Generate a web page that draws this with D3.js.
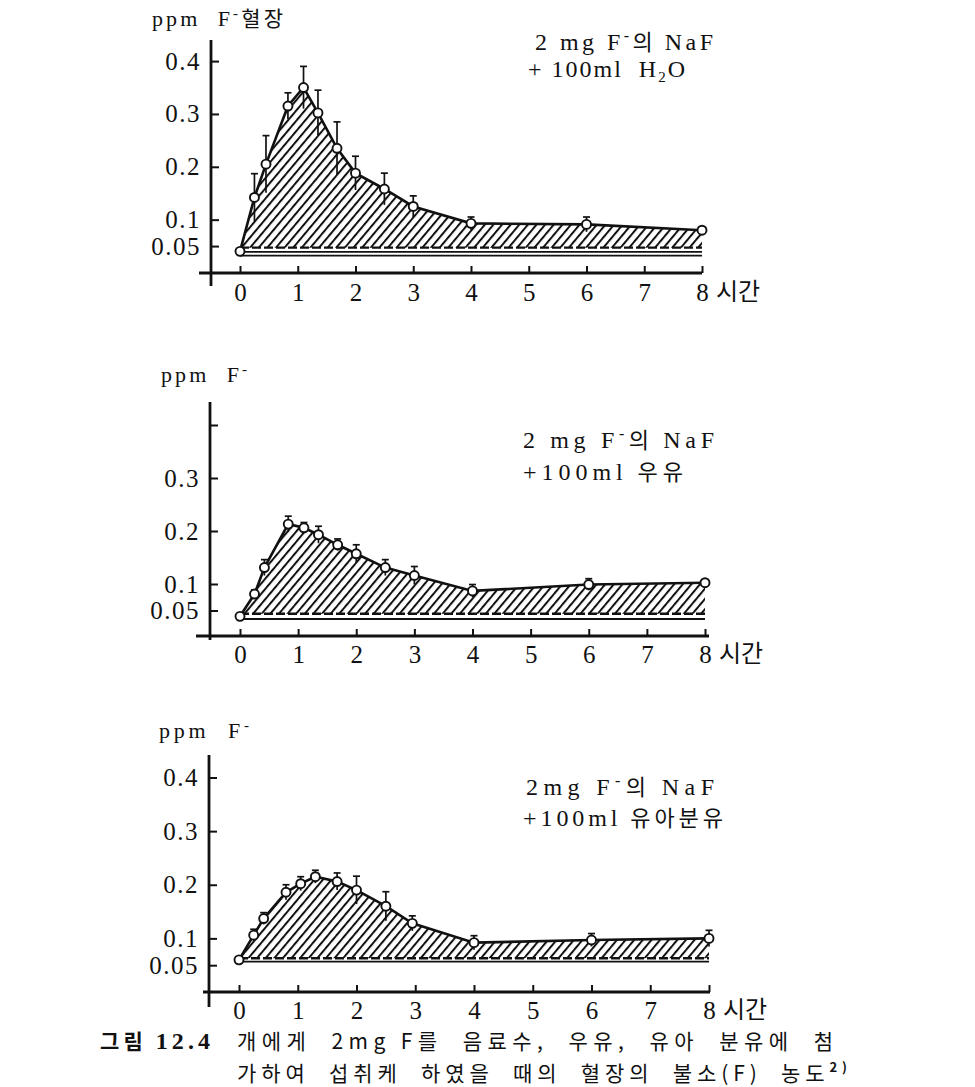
<!DOCTYPE html>
<html><head><meta charset="utf-8">
<script src="https://cdn.jsdelivr.net/npm/d3@7"></script>
<style>
body{margin:0;background:#fff;}
svg text{white-space:pre;}
</style></head><body>
<svg id="c" width="975" height="1087"></svg>
<script>
// ---------------- DATA ----------------
const hourTicks = [0,1,2,3,4,5,6,7,8];
const yTickValues = [0.4,0.3,0.2,0.1,0.05];
const yTickLabels1 = ["0.4","0.3","0.2","0.1","0.05"];
const yTickLabels2 = ["","0.3","0.2","0.1","0.05"];
const yTickLabels3 = ["0.4","0.3","0.2","0.1","0.05"];

// Panel 1: NaF + 100 ml H2O
const timeWater  = [0, 0.25, 0.45, 0.83, 1.1, 1.35, 1.68, 2, 2.5, 3, 4, 6, 8];
const plasmaWater = [0.040, 0.142, 0.205, 0.315, 0.350, 0.302, 0.235, 0.188, 0.158, 0.125, 0.093, 0.091, 0.080];
const errWater    = [0, 0.045, 0.054, 0.025, 0.040, 0.043, 0.050, 0.032, 0.030, 0.020, 0.012, 0.014, 0.005];
const bandWater   = [0.047, 0.039, 0.032];

// Panel 2: NaF + 100 ml milk
const timeMilk   = [0, 0.25, 0.42, 0.83, 1.1, 1.35, 1.68, 2, 2.5, 3, 4, 6, 8];
const plasmaMilk = [0.039, 0.081, 0.131, 0.213, 0.206, 0.193, 0.174, 0.157, 0.131, 0.116, 0.087, 0.099, 0.1025];
const errMilk    = [0, 0.008, 0.015, 0.015, 0.010, 0.016, 0.011, 0.017, 0.015, 0.017, 0.012, 0.011, 0.004];
const bandMilk   = [0.044, 0.034];

// Panel 3: NaF + 100 ml infant formula
const timeFormula   = [0, 0.25, 0.42, 0.8, 1.05, 1.3, 1.67, 2, 2.5, 2.95, 4, 6, 8];
const plasmaFormula = [0.060, 0.106, 0.137, 0.186, 0.202, 0.215, 0.206, 0.190, 0.160, 0.128, 0.092, 0.097, 0.100];
const errFormula    = [0, 0.011, 0.011, 0.014, 0.013, 0.012, 0.016, 0.026, 0.027, 0.014, 0.013, 0.012, 0.015];
const bandFormula   = [0.063, 0.0565];

// ---------------- LAYOUT ----------------
const svg = d3.select("#c");
const serif = "'Liberation Serif','Noto Sans CJK KR',serif";
const kr = "'Noto Sans CJK KR','Liberation Serif',sans-serif";

const defs = svg.append("defs");
defs.append("pattern").attr("id","hatch").attr("patternUnits","userSpaceOnUse")
  .attr("width",6.6).attr("height",10).attr("patternTransform","rotate(40)")
  .append("line").attr("x1",1).attr("y1",-2).attr("x2",1).attr("y2",12)
  .attr("stroke","#111").attr("stroke-width",2);

const panels = [
  {t:timeWater, v:plasmaWater, e:errWater, band:bandWater, labels:yTickLabels1,
   xr:[240,702], yr:[272.5,61.1], axX:211, axY:[40,286], xAxY:273, xAxX:[199,702],
   padX:10, ylab:{x:152,y:26,w:131,rest:"혈장"},
   leg:[{x:535,y:50,w:178},{x:528,y:77,w:157}], legText:"H2O"},
  {t:timeMilk, v:plasmaMilk, e:errMilk, band:bandMilk, labels:yTickLabels2,
   xr:[240,705], yr:[637,425], axX:210, axY:[402,640], xAxY:636, xAxX:[196,709],
   padX:9, ylab:{x:161,y:382,w:86,rest:""},
   leg:[{x:523,y:448,w:191},{x:523,y:480,w:160}], legText:"우유"},
  {t:timeFormula, v:plasmaFormula, e:errFormula, band:bandFormula, labels:yTickLabels3,
   xr:[239,709], yr:[992,777.5], axX:209, axY:[755,1007], xAxY:992, xAxX:[203,710],
   padX:9, ylab:{x:159,y:738,w:90,rest:""},
   leg:[{x:526,y:795,w:188},{x:523,y:826,w:200}], legText:"유아분유"}
];

panels.forEach((p,pi)=>{
  const g = svg.append("g");
  const x = d3.scaleLinear().domain([0,8]).range(p.xr);
  const y = d3.scaleLinear().domain([0,0.4]).range(p.yr);
  const data = p.t.map((t,i)=>({t, v:p.v[i], e:p.e[i]}));

  // hatched area
  g.append("path").datum(data)
    .attr("d", d3.area().x(d=>x(d.t)).y0(y(p.band[0])).y1(d=>y(d.v)))
    .attr("fill","url(#hatch)");

  // baseline band
  p.band.forEach((b,bi)=>{
    g.append("line").attr("x1",x(0)).attr("x2",x(8)).attr("y1",y(b)).attr("y2",y(b))
      .attr("stroke","#111").attr("stroke-width", bi===0?2.4:1.8)
      .attr("stroke-dasharray", bi===0?"9,3":null);
  });

  // curve
  g.append("path").datum(data)
    .attr("d", d3.line().x(d=>x(d.t)).y(d=>y(d.v)))
    .attr("fill","none").attr("stroke","#111").attr("stroke-width",2.6);

  // error bars
  const eb = data.filter(d=>d.e>0);
  g.selectAll(".eb").data(eb).join("line")
    .attr("x1",d=>x(d.t)).attr("x2",d=>x(d.t))
    .attr("y1",d=>y(d.v-d.e)).attr("y2",d=>y(d.v+d.e))
    .attr("stroke","#111").attr("stroke-width",1.7);
  g.selectAll(".cap").data(eb).join("line")
    .attr("x1",d=>x(d.t)-3.5).attr("x2",d=>x(d.t)+3.5)
    .attr("y1",d=>y(d.v+d.e)).attr("y2",d=>y(d.v+d.e))
    .attr("stroke","#111").attr("stroke-width",1.7);

  // markers
  g.selectAll(".pt").data(data).join("circle")
    .attr("cx",d=>x(d.t)).attr("cy",d=>y(d.v)).attr("r",4.5)
    .attr("fill","#fff").attr("stroke","#111").attr("stroke-width",1.9);

  // axes lines
  g.append("line").attr("x1",p.axX).attr("x2",p.axX).attr("y1",p.axY[0]).attr("y2",p.axY[1])
    .attr("stroke","#111").attr("stroke-width",2.8);
  g.append("line").attr("x1",p.xAxX[0]).attr("x2",p.xAxX[1]).attr("y1",p.xAxY).attr("y2",p.xAxY)
    .attr("stroke","#111").attr("stroke-width",2.8);

  // y ticks
  const ya = g.append("g").attr("transform",`translate(${p.axX},0)`)
    .call(d3.axisLeft(y).tickValues(yTickValues).tickFormat((d,i)=>p.labels[i])
      .tickSizeInner(-8).tickSizeOuter(0).tickPadding(10));
  ya.select(".domain").remove();
  ya.selectAll("line").attr("stroke","#111").attr("stroke-width",2);
  ya.selectAll("text").attr("font-family",serif).attr("font-size",25)
    .attr("letter-spacing",1.5).attr("fill","#111");

  // x ticks
  const xa = g.append("g").attr("transform",`translate(0,${p.xAxY})`)
    .call(d3.axisBottom(x).tickValues(hourTicks).tickFormat(d3.format("d"))
      .tickSizeInner(-7).tickSizeOuter(0).tickPadding(p.padX));
  xa.select(".domain").remove();
  xa.selectAll("line").attr("stroke","#111").attr("stroke-width",2);
  xa.selectAll("text").attr("font-family",serif).attr("font-size",25).attr("fill","#111");
  g.append("text").attr("x",x(8)+14).attr("y",p.xAxY+p.padX+17)
    .attr("font-family",kr).attr("font-size",24).attr("fill","#111").text("시간");

  // y label
  const yl = g.append("text").attr("x",p.ylab.x).attr("y",p.ylab.y)
    .attr("font-family",serif).attr("font-size",22).attr("fill","#111")
    .attr("textLength",p.ylab.w).attr("lengthAdjust","spacing");
  yl.append("tspan").text("ppm  F");
  yl.append("tspan").attr("dy",-8).attr("font-size",15).text("-");
  if(p.ylab.rest) yl.append("tspan").attr("dy",8).attr("font-family",kr).attr("font-size",21).text(p.ylab.rest);

  // legend
  const l1 = g.append("text").attr("x",p.leg[0].x).attr("y",p.leg[0].y)
    .attr("font-family",serif).attr("font-size",24).attr("fill","#111")
    .attr("textLength",p.leg[0].w).attr("lengthAdjust","spacing");
  l1.append("tspan").text(pi===2?"2mg F":"2 mg F");
  l1.append("tspan").attr("dy",-9).attr("font-size",16).text("-");
  l1.append("tspan").attr("dy",9).attr("font-family",kr).attr("font-size",22).text("의 ");
  l1.append("tspan").text("NaF");
  const l2 = g.append("text").attr("x",p.leg[1].x).attr("y",p.leg[1].y)
    .attr("font-family",serif).attr("font-size",24).attr("fill","#111")
    .attr("textLength",p.leg[1].w).attr("lengthAdjust","spacing");
  if(pi===0){
    l2.append("tspan").text("+ 100ml  H");
    l2.append("tspan").attr("dy",5).attr("font-size",15).text("2");
    l2.append("tspan").attr("dy",-5).text("O");
  } else {
    l2.append("tspan").text("+100ml");
    l2.append("tspan").attr("font-family",kr).attr("font-size",22).text(" "+p.legText);
  }
});

// caption
const cap1a = svg.append("text").attr("x",100).attr("y",1049)
  .attr("font-family",kr).attr("font-weight","bold").attr("font-size",21).attr("fill","#111")
  .attr("textLength",110).attr("lengthAdjust","spacing");
cap1a.append("tspan").text("그림 ");
cap1a.append("tspan").attr("font-family","'Liberation Serif',serif").attr("font-size",24).text("12.4");
svg.append("text").attr("x",237).attr("y",1049)
  .attr("font-family",kr).attr("font-size",21).attr("fill","#111")
  .attr("textLength",596).attr("lengthAdjust","spacing")
  .text("개에게  2mg F를  음료수,  우유,  유아  분유에  첨");
const cap2 = svg.append("text").attr("x",237).attr("y",1081)
  .attr("font-family",kr).attr("font-size",21).attr("fill","#111")
  .attr("textLength",610).attr("lengthAdjust","spacing");
cap2.append("tspan").text("가하여  섭취케  하였을  때의  혈장의  불소(F)  농도");
cap2.append("tspan").attr("dy",-9).attr("font-size",13).attr("font-weight","bold").text("2)");
</script>
</body></html>
